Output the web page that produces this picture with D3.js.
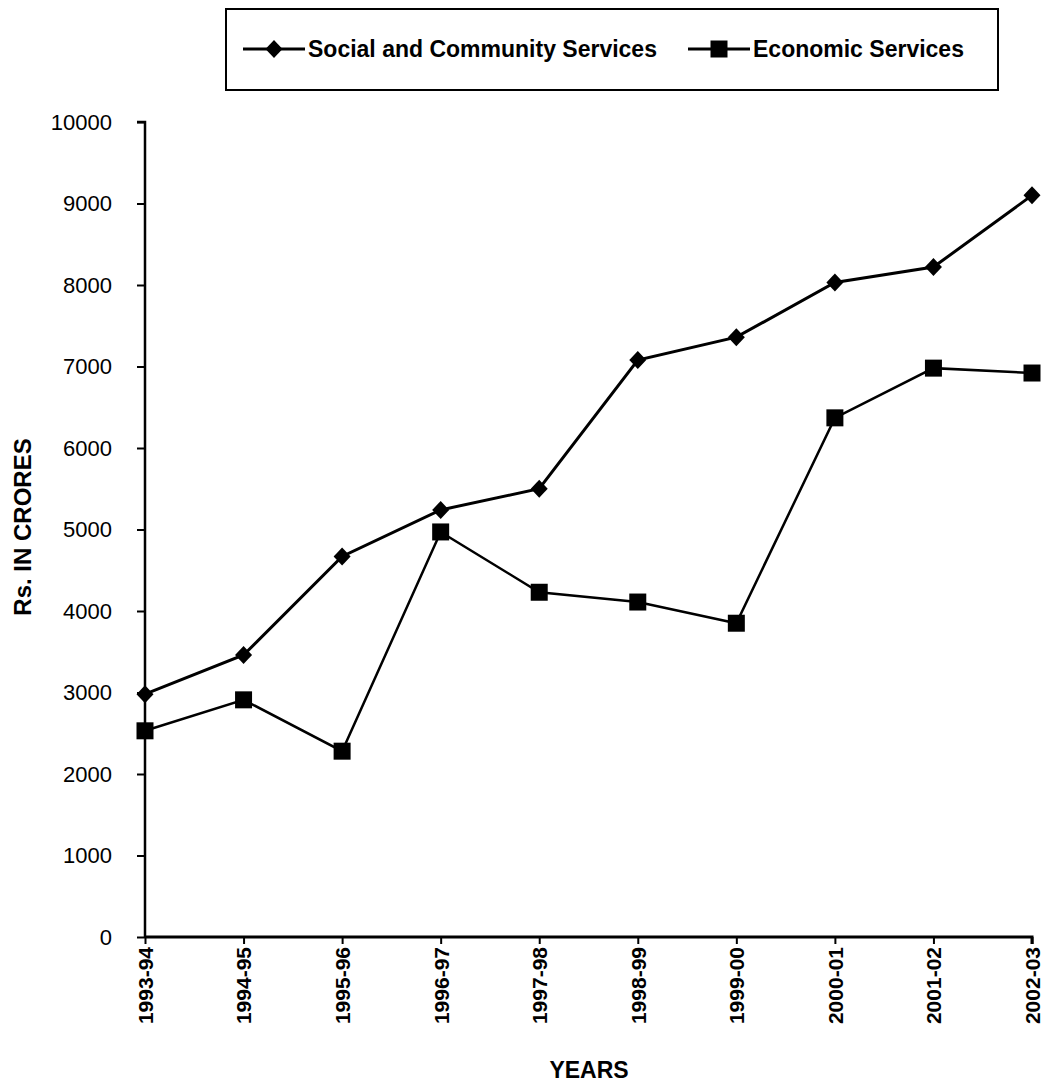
<!DOCTYPE html>
<html><head><meta charset="utf-8">
<script src="https://cdn.jsdelivr.net/npm/d3@7"></script>
<style>body{margin:0;background:#fff}svg{display:block}</style>
</head><body>
<script>
const years = ["1993-94","1994-95","1995-96","1996-97","1997-98","1998-99","1999-00","2000-01","2001-02","2002-03"];
const social = [2980,3460,4670,5240,5500,7080,7360,8030,8220,9100];
const economic = [2530,2910,2280,4970,4230,4110,3850,6370,6980,6920];
const yTicks = [0,1000,2000,3000,4000,5000,6000,7000,8000,9000,10000];
const seriesNames = ["Social and Community Services","Economic Services"];

const W=1044,H=1087;
const svg=d3.select("body").append("svg").attr("width",W).attr("height",H)
  .style("font-family","'Liberation Sans', Arial, sans-serif");
const x=d3.scalePoint().domain(years).range([145,1032]).padding(0);
const y=d3.scaleLinear().domain([0,10000]).range([937,122]);

// y axis
const ya=svg.append("g").attr("transform","translate(145,0)")
  .call(d3.axisLeft(y).tickValues(yTicks).tickSize(8).tickPadding(25).tickFormat(d3.format("d")));
ya.select(".domain").attr("stroke","#000").attr("stroke-width",2.5).attr("d","M-8,122H0V937");
ya.selectAll(".tick line").attr("stroke","#000").attr("stroke-width",2);
ya.selectAll(".tick text").attr("font-size",22).attr("fill","#000");

// x axis
const xa=svg.append("g").attr("transform","translate(0,937)")
  .call(d3.axisBottom(x).tickSize(7).tickPadding(10));
xa.select(".domain").attr("stroke","#000").attr("stroke-width",3).attr("d","M145,0H1032V7");
xa.selectAll(".tick line").attr("stroke","#000").attr("stroke-width",2);
xa.selectAll(".tick text").attr("font-size",21).attr("font-weight","bold").attr("fill","#000")
  .attr("transform","rotate(-90)").attr("text-anchor","end").attr("dx","-10").attr("dy","0.35em").attr("x",0).attr("y",0);

// axis titles
svg.append("text").attr("x",589).attr("y",1078).attr("text-anchor","middle")
  .attr("font-size",23).attr("font-weight","bold").text("YEARS");
svg.append("text").attr("transform","translate(31,527) rotate(-90)").attr("text-anchor","middle")
  .attr("font-size",24).attr("font-weight","bold").text("Rs. IN CRORES");

const line=d3.line().x((d,i)=>x(years[i])).y(d=>y(d));
const diamond="M0,-9L8.5,0L0,9L-8.5,0Z";
const square="M-8.5,-8.5H8.5V8.5H-8.5Z";

function drawSeries(vals,sym,sw){
  svg.append("path").datum(vals).attr("d",line).attr("fill","none").attr("stroke","#000").attr("stroke-width",sw);
  svg.append("g").selectAll("path").data(vals).join("path")
    .attr("transform",(d,i)=>`translate(${x(years[i])},${y(d)})`).attr("d",sym).attr("fill","#000");
}
drawSeries(economic,square,2.5);
drawSeries(social,diamond,3);

// legend
const lg=svg.append("g");
lg.append("rect").attr("x",226).attr("y",9).attr("width",772).attr("height",81)
  .attr("fill","#fff").attr("stroke","#000").attr("stroke-width",2);
const items=[{name:seriesNames[0],sym:diamond,x0:243},{name:seriesNames[1],sym:square,x0:688}];
items.forEach(it=>{
  const g=lg.append("g").attr("transform",`translate(${it.x0},49)`);
  g.append("line").attr("x1",0).attr("x2",62).attr("stroke","#000").attr("stroke-width",3);
  g.append("path").attr("transform","translate(31,0)").attr("d",it.sym).attr("fill","#000");
  g.append("text").attr("x",65).attr("dy","0.35em").attr("font-size",23).attr("font-weight","bold").text(it.name);
});
</script>
</body></html>
